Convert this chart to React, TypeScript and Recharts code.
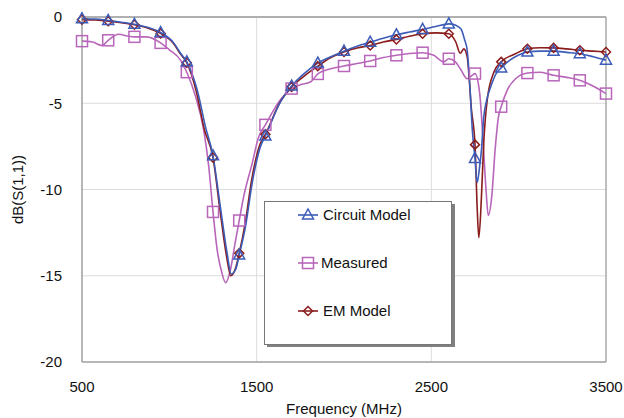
import React from "react";
import { LineChart, Line, XAxis, YAxis, CartesianGrid, ReferenceLine, Label } from "recharts";

// marker positions (every 150 MHz)
const markerFreqs = [500, 650, 800, 950, 1100, 1250, 1400, 1550, 1700, 1850, 2000, 2150, 2300, 2450, 2600, 2750, 2900, 3050, 3200, 3350, 3500];

const xTicks = [500, 1500, 2500, 3500];
const yTicks = [-20, -15, -10, -5, 0];

const circuitFreq = [500, 575, 650, 725, 800, 875, 950, 1025, 1064, 1100, 1160, 1207, 1250, 1292, 1331, 1354, 1379, 1400, 1436, 1474, 1522, 1550, 1636, 1700, 1775, 1850, 1925, 2000, 2075, 2150, 2225, 2300, 2375, 2450, 2525, 2600, 2640, 2670, 2690, 2705, 2720, 2735, 2750, 2762, 2775, 2787, 2800, 2815, 2840, 2870, 2900, 2950, 3000, 3050, 3125, 3200, 3275, 3350, 3425, 3500];
const circuitDb = [-0.1, -0.12, -0.2, -0.3, -0.42, -0.6, -0.9, -1.5, -2.1, -2.6, -4.25, -6.37, -8.05, -11.0, -13.7, -14.9, -14.65, -13.8, -12.15, -9.64, -7.5, -6.9, -4.92, -4.0, -3.25, -2.67, -2.3, -1.98, -1.7, -1.46, -1.23, -1.03, -0.87, -0.72, -0.55, -0.4, -0.48, -0.7, -1.3, -1.9, -3.9, -6.6, -8.2, -9.6, -8.8, -7.7, -5.8, -4.9, -4.05, -3.3, -2.95, -2.5, -2.2, -2.03, -1.98, -1.98, -2.05, -2.13, -2.3, -2.5];

const measFreq = [500, 560, 615, 650, 710, 760, 800, 870, 950, 1000, 1064, 1100, 1150, 1197, 1226, 1250, 1274, 1300, 1322, 1350, 1375, 1400, 1426, 1474, 1510, 1550, 1636, 1700, 1760, 1810, 1850, 1925, 2000, 2075, 2150, 2225, 2300, 2375, 2450, 2514, 2571, 2600, 2638, 2666, 2705, 2734, 2750, 2777, 2797, 2813, 2826, 2846, 2865, 2884, 2900, 2934, 2982, 3050, 3125, 3200, 3275, 3350, 3425, 3500];
const measDb = [-1.4, -1.45, -1.65, -1.35, -1.0, -1.1, -1.15, -1.15, -1.5, -1.9, -2.5, -3.2, -4.6, -6.56, -8.7, -11.3, -13.5, -14.8, -15.4, -14.65, -13.2, -11.8, -10.4, -8.5, -7.0, -6.25, -4.8, -4.15, -3.9, -3.75, -3.3, -3.0, -2.84, -2.7, -2.55, -2.35, -2.22, -2.12, -2.07, -2.22, -2.6, -2.42, -2.6, -3.0, -3.58, -3.38, -3.28, -4.44, -7.33, -10.0, -11.5, -10.4, -7.72, -5.8, -5.2, -4.25, -3.58, -3.25, -3.2, -3.38, -3.5, -3.67, -4.0, -4.44];

const emFreq = [500, 575, 650, 725, 800, 875, 950, 1025, 1064, 1100, 1155, 1200, 1250, 1290, 1328, 1352, 1378, 1400, 1435, 1472, 1520, 1550, 1636, 1700, 1775, 1850, 1925, 2000, 2075, 2150, 2225, 2300, 2375, 2450, 2525, 2600, 2640, 2665, 2686, 2705, 2730, 2750, 2763, 2772, 2787, 2800, 2820, 2858, 2900, 2982, 3050, 3125, 3200, 3275, 3350, 3425, 3500];
const emDb = [-0.15, -0.17, -0.25, -0.33, -0.45, -0.63, -0.95, -1.55, -2.15, -2.65, -4.35, -6.5, -8.15, -11.2, -13.9, -15.0, -14.6, -13.7, -11.9, -9.4, -7.35, -6.8, -4.9, -4.05, -3.4, -2.85, -2.35, -2.03, -1.8, -1.65, -1.45, -1.3, -1.12, -0.97, -0.92, -0.97, -1.45, -2.1, -1.85, -2.3, -5.4, -7.4, -11.2, -12.8, -10.4, -7.3, -4.8, -3.2, -2.6, -2.13, -1.84, -1.78, -1.79, -1.85, -1.93, -1.98, -2.03];

const toRows = (freqs: number[], vals: number[]) => freqs.map((f, i) => ({ f, v: vals[i] }));

const BLUE = "#3c5cb8";
const PURPLE = "#b866ba";
const DARKRED = "#8b1c1c";
const FONT = "'Liberation Sans', Arial, sans-serif";

const marker = (kind: string, cx: number, cy: number, key?: string) => {
  if (kind === "tri")
    return (
      <polygon key={key} points={`${cx},${cy - 6} ${cx - 5.5},${cy + 4} ${cx + 5.5},${cy + 4}`} fill="none" stroke={BLUE} strokeWidth={1.5} />
    );
  if (kind === "sq")
    return <rect key={key} x={cx - 5.5} y={cy - 5.5} width={11} height={11} fill="none" stroke={PURPLE} strokeWidth={1.5} />;
  return (
    <polygon key={key} points={`${cx},${cy - 4.5} ${cx + 4.5},${cy} ${cx},${cy + 4.5} ${cx - 4.5},${cy}`} fill="none" stroke={DARKRED} strokeWidth={1.5} />
  );
};

const makeDot = (kind: string) => (props: any) => {
  const { cx, cy, payload, index } = props;
  const key = `${kind}-${index}`;
  if (cx == null || cy == null || !markerFreqs.includes(payload.f)) return <g key={key} />;
  return marker(kind, cx, cy, key);
};

const legendItems = [
  { name: "Circuit Model", kind: "tri", color: BLUE, y: 14 },
  { name: "Measured", kind: "sq", color: PURPLE, y: 62 },
  { name: "EM Model", kind: "dia", color: DARKRED, y: 110 },
];

function LegendBox() {
  return (
    <svg
      width={196}
      height={150}
      style={{ position: "absolute", left: 262, top: 199 }}
    >
      <rect x={5} y={5} width={188} height={143} fill="#808080" />
      <rect x={2.5} y={2.5} width={187} height={143} fill="#fff" stroke="#777" strokeWidth={1} />
      {legendItems.map((it) => (
        <g key={it.name}>
          <line x1={36} x2={56} y1={it.y + 2} y2={it.y + 2} stroke={it.color} strokeWidth={1.6} />
          {marker(it.kind, 46, it.y + 2)}
          <text x={it.kind === "sq" ? 59 : 61} y={it.y + 7} fontSize={15} fontFamily={FONT} fill="#111">
            {it.name}
          </text>
        </g>
      ))}
    </svg>
  );
}

export default function App() {
  return (
    <div style={{ position: "absolute", left: 0, top: 0, width: 624, height: 418, background: "#fff", fontFamily: FONT }}>
      <LineChart width={624} height={418} margin={{ top: 17, right: 18, bottom: 0, left: 0 }}>
        <CartesianGrid stroke="#dcdcdc" strokeWidth={1} />
        <XAxis
          type="number"
          dataKey="f"
          domain={[500, 3500]}
          ticks={xTicks}
          height={56}
          axisLine={{ stroke: "#808080" }}
          tickLine={false}
          tickSize={17}
          tickMargin={2}
          tick={{ fontSize: 15, fill: "#111", fontFamily: FONT }}
        >
          <Label value="Frequency (MHz)" position="insideBottom" offset={4} style={{ fontSize: 15, fill: "#111", fontFamily: FONT }} />
        </XAxis>
        <YAxis
          type="number"
          domain={[-20, 0]}
          ticks={yTicks}
          width={82}
          axisLine={{ stroke: "#808080" }}
          tickLine={false}
          tickSize={18}
          tickMargin={2}
          tick={{ fontSize: 15, fill: "#111", fontFamily: FONT }}
        >
          <Label
            value="dB(S(1,1))"
            angle={-90}
            position="insideLeft"
            offset={18}
            style={{ fontSize: 15, fill: "#111", fontFamily: FONT, textAnchor: "middle" }}
          />
        </YAxis>
        <ReferenceLine y={0} stroke="#b0b0b0" strokeWidth={2} />
        <ReferenceLine x={3500} stroke="#909090" strokeWidth={1} />
        <Line
          data={toRows(measFreq, measDb)}
          dataKey="v"
          type="monotone"
          stroke={PURPLE}
          strokeWidth={1.6}
          dot={makeDot("sq")}
          activeDot={false}
          isAnimationActive={false}
        />
        <Line
          data={toRows(emFreq, emDb)}
          dataKey="v"
          type="monotone"
          stroke={DARKRED}
          strokeWidth={1.6}
          dot={makeDot("dia")}
          activeDot={false}
          isAnimationActive={false}
        />
        <Line
          data={toRows(circuitFreq, circuitDb)}
          dataKey="v"
          type="monotone"
          stroke={BLUE}
          strokeWidth={1.6}
          dot={makeDot("tri")}
          activeDot={false}
          isAnimationActive={false}
        />
      </LineChart>
      <LegendBox />
    </div>
  );
}
